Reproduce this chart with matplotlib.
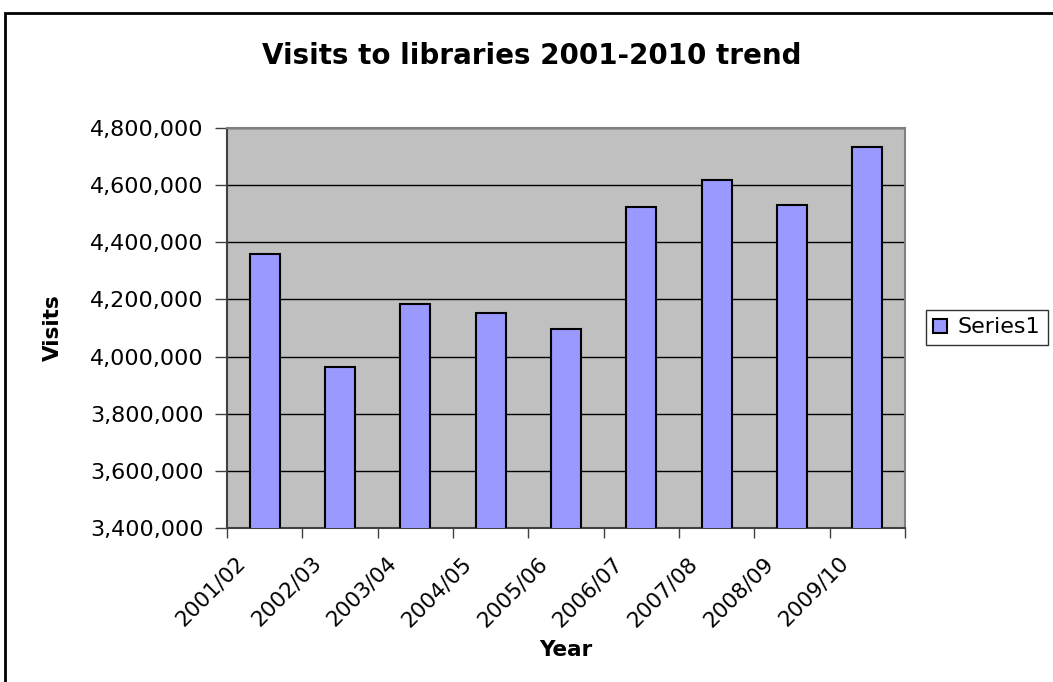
import matplotlib
matplotlib.use("Agg")
import matplotlib.pyplot as plt
import matplotlib.transforms as mtransforms
from matplotlib.patches import Rectangle
from matplotlib.ticker import FuncFormatter, FixedLocator, NullFormatter
import numpy as np

years = ["2001/02", "2002/03", "2003/04", "2004/05", "2005/06",
         "2006/07", "2007/08", "2008/09", "2009/10"]
visits = [4359000, 3962000, 4183000, 4151000, 4097000,
          4525000, 4617000, 4532000, 4733000]
series_name = "Series1"

plt.rcParams["font.family"] = ["DejaVu Sans"]

fig = plt.figure(figsize=(10.53, 6.82), dpi=100)
ax = fig.add_axes([0.2156, 0.2258, 0.6439, 0.5865])

x = np.arange(len(years))
ax.bar(x, visits, width=0.4, color="#9999FF", edgecolor="black",
       linewidth=1.5, label=series_name, zorder=3)

ax.set_facecolor("#C0C0C0")
ax.set_xlim(-0.5, len(years) - 0.5)
ax.set_ylim(3400000, 4800000)
ax.set_yticks(np.arange(3400000, 4800001, 200000))
ax.yaxis.set_major_formatter(FuncFormatter(lambda v, p: f"{int(v):,}"))
ax.grid(axis="y", color="black", linewidth=1.0, zorder=1)

# ticks sit between categories, labels at the category centres
ax.xaxis.set_major_locator(FixedLocator(np.arange(-0.5, len(years), 1.0)))
ax.xaxis.set_major_formatter(NullFormatter())
ax.xaxis.set_minor_locator(FixedLocator(x))
ax.set_xticklabels(years, minor=True)
ax.tick_params(axis="x", which="minor", length=0, pad=18)
ax.tick_params(axis="x", which="major", length=7, width=1, color="#404040")
ax.tick_params(axis="y", length=9, width=1, color="#404040", labelsize=16,
               pad=8)
shift = mtransforms.ScaledTranslation(-0.15, 0, fig.dpi_scale_trans)
for lbl in ax.get_xticklabels(minor=True):
    lbl.set_rotation(45)
    lbl.set_ha("right")
    lbl.set_fontsize(15.5)
    lbl.set_transform(lbl.get_transform() + shift)

for side in ("left", "bottom"):
    ax.spines[side].set_color("#404040")
    ax.spines[side].set_linewidth(1.5)
for side in ("top", "right"):
    ax.spines[side].set_color("#808080")
    ax.spines[side].set_linewidth(1.5)

fig.text(0.505, 0.918, "Visits to libraries 2001-2010 trend", ha="center",
         va="center", fontsize=20, fontweight="bold")
fig.text(0.050, 0.519, "Visits", ha="center", va="center", rotation=90,
         fontsize=15.5, fontweight="bold")
fig.text(0.537, 0.047, "Year", ha="center", va="center", fontsize=15.5,
         fontweight="bold")

leg = ax.legend(loc="center left", bbox_to_anchor=(0.879, 0.5198),
                bbox_transform=fig.transFigure, fontsize=16, frameon=True,
                fancybox=False, handlelength=0.6, handleheight=0.6,
                handletextpad=0.5, borderpad=0.35, borderaxespad=0)
leg.get_frame().set_edgecolor("black")
leg.get_frame().set_linewidth(1.0)

# outer chart border, running off the right and bottom edges
fig.patches.append(Rectangle((0.005, -0.05), 1.1, 1.031, transform=fig.transFigure,
                             fill=False, edgecolor="black", linewidth=2.0))

fig.savefig("out.png", dpi=100)
